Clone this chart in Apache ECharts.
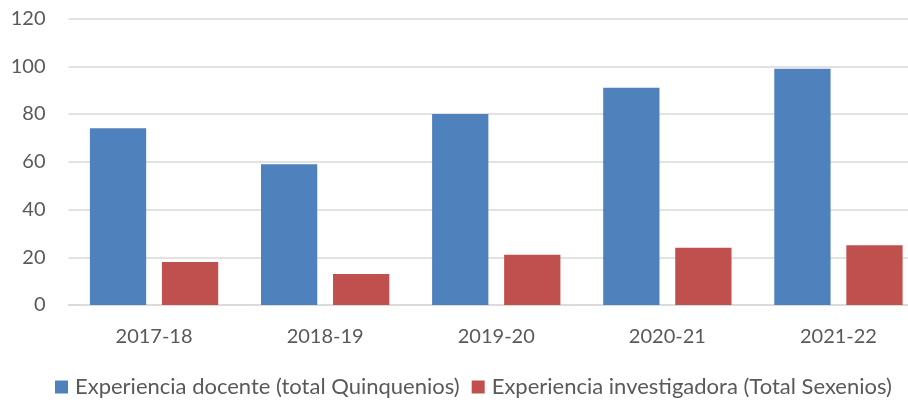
<!DOCTYPE html>
<html>
<head>
<meta charset="utf-8">
<script src="https://cdn.jsdelivr.net/npm/echarts@6/dist/echarts.min.js"></script>
<style>
  html, body { margin: 0; padding: 0; background: #fff; overflow: hidden; }
  #wrap { width: 908px; height: 403px; overflow: hidden; }
  #chart { width: 924px; height: 403px; }
</style>
</head>
<body>
<div id="wrap"><div id="chart"></div></div>
<script>
var categories = ['2017-18', '2018-19', '2019-20', '2020-21', '2021-22'];
var docente = [74, 59, 80, 91, 99];
var investigadora = [18, 13, 21, 24, 25];
var seriesNames = ['Experiencia docente (total Quinquenios)', 'Experiencia investigadora (Total Sexenios)'];

// chart is a bit wider than the window: the last category is cut at the right edge
var chart = echarts.init(document.getElementById('chart'));
var font = 'Lato, "Open Sans", sans-serif';

var option = {
  animation: false,
  textStyle: { fontFamily: font },
  legend: {
    top: 371,
    left: 50,
    itemWidth: 13,
    itemHeight: 13,
    itemGap: 12,
    icon: 'rect',
    textStyle: { color: '#595959', fontSize: 22, fontFamily: font, padding: [0, 0, 0, 2] },
    data: seriesNames
  },
  grid: { left: 68.5, top: 18.5, right: 0, bottom: 98, containLabel: false },
  xAxis: {
    type: 'category',
    data: categories,
    axisLine: { lineStyle: { color: '#d9d9d9', width: 1.5 } },
    axisTick: { show: false },
    axisLabel: { color: '#595959', fontSize: 20, margin: 22 }
  },
  yAxis: {
    type: 'value',
    min: 0,
    max: 120,
    interval: 20,
    axisLine: { show: false },
    axisTick: { show: false },
    splitLine: { lineStyle: { color: '#d9d9d9', width: 1.5 } },
    axisLabel: { color: '#595959', fontSize: 20, margin: 23 }
  },
  series: [
    {
      name: seriesNames[0],
      type: 'bar',
      data: docente,
      barGap: '28%',
      barCategoryGap: '25%',
      itemStyle: { color: '#4F81BD' }
    },
    {
      name: seriesNames[1],
      type: 'bar',
      data: investigadora,
      itemStyle: { color: '#C0504D' }
    }
  ]
};
chart.setOption(option);
</script>
</body>
</html>
